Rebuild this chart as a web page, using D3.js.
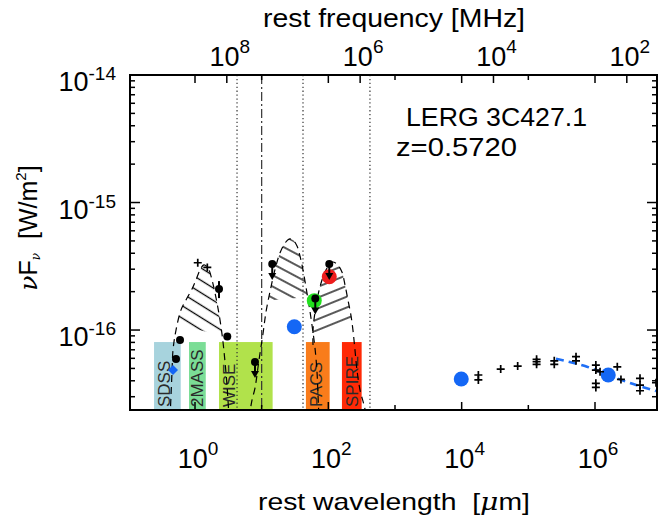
<!DOCTYPE html>
<html><head><meta charset="utf-8">
<script src="https://cdn.jsdelivr.net/npm/d3@7"></script>
<style>body{margin:0;background:#fff;} svg{display:block;font-family:"Liberation Sans",Arial,Helvetica,sans-serif;}</style>
</head><body><svg id="c" width="658" height="521"></svg>
<script>
// ---------------- data ----------------
const bandNames  = ["SDSS","2MASS","WISE","PACS","SPIRE"];
const bandLo     = [0.243, 0.813, 2.29, 46.1, 160];   // micron
const bandHi     = [0.611, 1.45, 14.6, 104.7, 316];
const bandColors = ["#a7d3dd","#7bdd96","#b1e24b","#f97c1b","#ff2a06"];
const bandTop    = 8.05e-17;

const dottedLines  = [4.27, 41.7, 421];
const dashDotLines = [10.0];

const detLam = [0.596, 0.519, 3.05];
const detF   = [8.35e-17, 5.93e-17, 8.89e-17];

const errLam = [2.29], errF = [2.10e-16], errLo = [1.78e-16], errHi = [2.42e-16];

const ulLam = [7.94, 14.4, 63.7, 103.3];
const ulF   = [5.61e-17, 3.29e-16, 1.77e-16, 3.29e-16];

const circLam   = [30.9, 61.5, 103.3, 9860, 1.58e6];
const circF     = [1.06e-16, 1.70e-16, 2.62e-16, 4.13e-17, 4.44e-17];
const circColor = ["#1467f5","#22e01e","#ee1d1d","#1467f5","#1467f5"];

const diaLam = [0.468], diaF = [4.85e-17];

const plusLam = [1.10, 1.53, 1.78e4, 1.78e4, 3.85e4, 6.92e4, 1.33e5, 1.33e5, 1.33e5, 2.45e5, 2.45e5,
                 5.19e5, 5.19e5, 1.03e6, 1.03e6, 1.03e6, 1.03e6, 1.19e6, 2.16e6, 2.45e6, 4.73e6, 4.73e6, 4.73e6, 8.22e6];
const plusF   = [3.37e-16, 3.10e-16, 4.44e-17, 4.06e-17, 4.94e-17, 5.22e-17, 5.89e-17, 5.64e-17, 5.38e-17, 5.74e-17, 5.38e-17,
                 6.18e-17, 5.74e-17, 5.31e-17, 4.85e-17, 3.82e-17, 3.55e-17, 4.71e-17, 5.15e-17, 4.10e-17, 4.18e-17, 3.70e-17, 3.34e-17, 3.86e-17];

const synLam = [2.6e5, 7.08e5, 1.57e6, 3.35e6, 8.22e6];
const synF   = [5.95e-17, 5.22e-17, 4.44e-17, 3.84e-17, 3.33e-17];

// model envelopes (upper dashed curves) and lower hatch limits
const bump1Lam = [0.422,0.437,0.452,0.468,0.519,0.617,0.733,0.902,1.035,1.19,1.36,1.57,1.80,2.07,2.37,2.63,2.82,3.02,3.24];
const bump1F   = [2.04e-17,3.09e-17,4.69e-17,6.97e-17,1.00e-16,1.44e-16,1.72e-16,2.10e-16,2.47e-16,2.96e-16,3.24e-16,3.06e-16,2.47e-16,1.78e-16,1.20e-16,8.05e-17,5.61e-17,3.70e-17,2.04e-17];
const bump1LowLam = [0.355, 3.59], bump1LowF = [1.16e-16, 8.65e-17];

const bump2Lam = [6.46,7.16,7.94,9.12,10.5,11.6,13.3,15.8,18.8,22.4,25.7,29.5,33.9,37.6,41.7,46.2,51.3,56.9,63.1,67.6,70.0,72.4];
const bump2F   = [2.04e-17,2.82e-17,3.51e-17,5.82e-17,9.47e-17,1.38e-16,1.99e-16,2.96e-16,4.02e-16,4.81e-16,5.17e-16,5.08e-16,4.56e-16,3.80e-16,2.96e-16,2.17e-16,1.57e-16,1.09e-16,7.22e-17,4.69e-17,3.09e-17,2.04e-17];
const bump2LowLam = [10.1, 56.9], bump2LowF = [1.69e-16, 1.82e-16];

const bump3Lam = [58.9,58.9,63.1,70.0,80.4,95.5,113.5,135,160,178,197,219,234,251,269,299,343,380];
const bump3F   = [7.62e-17,1.00e-16,1.38e-16,1.88e-16,2.47e-16,3.06e-16,3.41e-16,3.29e-16,2.85e-16,2.25e-16,1.72e-16,1.29e-16,1.00e-16,6.97e-17,4.85e-17,3.38e-17,2.58e-17,2.04e-17];
const bump3LowLam = [56.9, 279], bump3LowF = [9.5e-17, 1.13e-16];

const xMajor = [1, 100, 1e4, 1e6];
const xMinor = [10, 1e3, 1e5];
const yMajor = [1e-16, 1e-15, 1e-14];
const freqTicks = [1e8, 1e6, 1e4, 1e2];   // MHz

const title1 = "LERG 3C427.1";
const title2 = "z=0.5720";

// ---------------- layout ----------------
const L = 130, R = 657, T = 75, B = 410;
const svg = d3.select("#c");
const x = d3.scaleLog().domain([Math.pow(10,-0.975), Math.pow(10,6.93)]).range([L, R]);
const y = d3.scaleLog().domain([2.36e-17, 1e-14]).range([B, T]);
const lamFromFreq = f => 3e8 / f;

const defs = svg.append("defs");
defs.append("clipPath").attr("id","plot").append("rect").attr("x",L).attr("y",T).attr("width",R-L).attr("height",B-T);
function hatch(id, angle, sp){
  const p = defs.append("pattern").attr("id",id).attr("patternUnits","userSpaceOnUse")
    .attr("width",14).attr("height",sp).attr("patternTransform",`rotate(${angle})`);
  p.append("line").attr("x1",0).attr("x2",14).attr("y1",sp/2).attr("y2",sp/2).attr("stroke","#000").attr("stroke-width",1.3);
}
hatch("h1", 32, 10.5); hatch("h2", 28, 10); hatch("h3", -22, 10);

const g = svg.append("g").attr("clip-path","url(#plot)");

// bands
bandNames.forEach((n,i)=>{
  const x0 = x(bandLo[i]), x1 = x(bandHi[i]);
  g.append("rect").attr("x",x0).attr("y",y(bandTop)).attr("width",x1-x0).attr("height",B-y(bandTop)).attr("fill",bandColors[i]);
  const cx = x0 + Math.min((x1-x0)/2, 10);
  g.append("text").attr("transform",`translate(${cx+6},${B-3}) rotate(-90)`)
    .attr("font-size",17).attr("fill","#2a2a2a").text(n);
});

// vertical lines
dottedLines.forEach(v=>g.append("line").attr("x1",x(v)).attr("x2",x(v)).attr("y1",T).attr("y2",B)
  .attr("stroke","#333").attr("stroke-width",1.2).attr("stroke-dasharray","1.3,2.6"));
dashDotLines.forEach(v=>g.append("line").attr("x1",x(v)).attr("x2",x(v)).attr("y1",T).attr("y2",B)
  .attr("stroke","#333").attr("stroke-width",1.2).attr("stroke-dasharray","9,3,2,3"));

// hatched model regions
const line = d3.line().x(d=>x(d[0])).y(d=>y(d[1])).curve(d3.curveCatmullRom);
function bump(id, lam, F, lowLam, lowF, pat){
  const pts = lam.map((l,i)=>[l,F[i]]);
  const lx0 = x(lowLam[0]), ly0 = y(lowF[0]), lx1 = x(lowLam[1]), ly1 = y(lowF[1]);
  defs.append("clipPath").attr("id",id).append("path")
    .attr("d",`M${lx0},${ly0}L${lx1},${ly1}L${lx1},${T}L${lx0},${T}Z`);
  g.append("path").attr("d",line(pts)+"Z").attr("fill",`url(#${pat})`).attr("clip-path",`url(#${id})`);
  g.append("path").attr("d",line(pts)).attr("fill","none").attr("stroke","#000")
    .attr("stroke-width",1.2).attr("stroke-dasharray","7,5");
}
bump("c1", bump1Lam, bump1F, bump1LowLam, bump1LowF, "h1");
bump("c2", bump2Lam, bump2F, bump2LowLam, bump2LowF, "h2");
bump("c3", bump3Lam, bump3F, bump3LowLam, bump3LowF, "h3");

// synchrotron model
g.append("path").attr("d", d3.line().x(d=>x(d[0])).y(d=>y(d[1])).curve(d3.curveCatmullRom)(synLam.map((l,i)=>[l,synF[i]])))
  .attr("fill","none").attr("stroke","#1f6ff5").attr("stroke-width",2.6).attr("stroke-dasharray","8,5");

// big circles
circLam.forEach((l,i)=>g.append("circle").attr("cx",x(l)).attr("cy",y(circF[i])).attr("r",7.5).attr("fill",circColor[i]));

// plus markers
plusLam.forEach((l,i)=>{
  const px = x(l), py = y(plusF[i]);
  g.append("path").attr("d",`M${px-4},${py}H${px+4}M${px},${py-4}V${py+4}`).attr("stroke","#000").attr("stroke-width",1.7);
});

// diamond
diaLam.forEach((l,i)=>{
  const px=x(l), py=y(diaF[i]);
  g.append("path").attr("d",`M${px},${py-5}L${px+5},${py}L${px},${py+5}L${px-5},${py}Z`).attr("fill","#1467f5");
});

// detections
detLam.forEach((l,i)=>g.append("circle").attr("cx",x(l)).attr("cy",y(detF[i])).attr("r",4).attr("fill","#000"));

// error-bar point
errLam.forEach((l,i)=>{
  g.append("line").attr("x1",x(l)).attr("x2",x(l)).attr("y1",y(errHi[i])).attr("y2",y(errLo[i])).attr("stroke","#000").attr("stroke-width",2);
  g.append("circle").attr("cx",x(l)).attr("cy",y(errF[i])).attr("r",4).attr("fill","#000");
});

// upper limits
ulLam.forEach((l,i)=>{
  const px=x(l), py=y(ulF[i]);
  g.append("line").attr("x1",px).attr("x2",px).attr("y1",py).attr("y2",py+11).attr("stroke","#000").attr("stroke-width",2);
  g.append("path").attr("d",`M${px-4},${py+9}L${px+4},${py+9}L${px},${py+16}Z`).attr("fill","#000");
  g.append("circle").attr("cx",px).attr("cy",py).attr("r",4).attr("fill","#000");
});

// ---------------- axes ----------------
const ax = svg.append("g").attr("stroke","#000").attr("stroke-width",1.5);
function vt(px, y0, len){ ax.append("line").attr("x1",px).attr("x2",px).attr("y1",y0).attr("y2",y0+len); }
function ht(py, x0, len){ ax.append("line").attr("y1",py).attr("y2",py).attr("x1",x0).attr("x2",x0+len); }
xMajor.forEach(v=>{ vt(x(v), B, -8); vt(x(v), T, 8); });
xMinor.forEach(v=>{ vt(x(v), B, -5); vt(x(v), T, 5); });
freqTicks.forEach(f=>vt(x(lamFromFreq(f)), T, 8));
const [y0d,y1d] = y.domain();
for (let e=-17; e<=-14; e++){
  for (let m=1; m<=9; m++){
    const v = m*Math.pow(10,e);
    if (v < y0d*0.999 || v > y1d*1.001) continue;
    const len = m===1 ? 10 : 5;
    ht(y(v), L, len); ht(y(v), R, -len);
  }
}
svg.append("rect").attr("x",L).attr("y",T).attr("width",R-L).attr("height",B-T)
  .attr("fill","none").attr("stroke","#000").attr("stroke-width",2);

// tick labels
function powLabel(sel, exp, supSize, supDy){
  sel.append("tspan").text("10");
  sel.append("tspan").attr("font-size",supSize).attr("dy",supDy).text(exp);
}
xMajor.forEach(v=>{
  const t = svg.append("text").attr("x",x(v)+3).attr("y",468).attr("text-anchor","middle").attr("font-size",27);
  powLabel(t, String(Math.round(Math.log10(v))), 19, -13);
});
freqTicks.forEach(f=>{
  const t = svg.append("text").attr("x",x(lamFromFreq(f))+3).attr("y",66).attr("text-anchor","middle").attr("font-size",27);
  powLabel(t, String(Math.round(Math.log10(f))), 19, -13);
});
yMajor.forEach(v=>{
  const t = svg.append("text").attr("x",116).attr("y",y(v)+16).attr("text-anchor","end").attr("font-size",27);
  powLabel(t, String(Math.round(Math.log10(v))), 19, -11);
});

// axis titles
svg.append("text").attr("x",394).attr("y",27).attr("text-anchor","middle").attr("font-size",26)
  .attr("textLength",262).attr("lengthAdjust","spacingAndGlyphs").text("rest frequency [MHz]");
const bt = svg.append("text").attr("x",394).attr("y",510).attr("text-anchor","middle").attr("font-size",24)
  .attr("textLength",272).attr("lengthAdjust","spacingAndGlyphs");
bt.append("tspan").text("rest wavelength\u00a0\u00a0[");
bt.append("tspan").attr("font-family","DejaVu Serif").attr("font-style","italic").text("\u03bc");
bt.append("tspan").text("m]");

const yt = svg.append("text").attr("transform","translate(37,228) rotate(-90)").attr("text-anchor","middle").attr("font-size",25);
yt.append("tspan").attr("font-family","DejaVu Serif").attr("font-style","italic").text("\u03bd");
yt.append("tspan").text("F");
yt.append("tspan").attr("font-size",12).attr("dy",3).attr("font-family","DejaVu Serif").attr("font-style","italic").text("\u03bd");
yt.append("tspan").attr("dy",-3).text("\u00a0\u00a0[W/m");
yt.append("tspan").attr("font-size",15).attr("dy",-11).text("2");
yt.append("tspan").attr("dy",11).text("]");

// annotation
svg.append("text").attr("x",406).attr("y",126).attr("font-size",25).attr("textLength",181)
  .attr("lengthAdjust","spacingAndGlyphs").text(title1);
svg.append("text").attr("x",396).attr("y",156).attr("font-size",25).attr("textLength",121)
  .attr("lengthAdjust","spacingAndGlyphs").text(title2);
</script></body></html>
